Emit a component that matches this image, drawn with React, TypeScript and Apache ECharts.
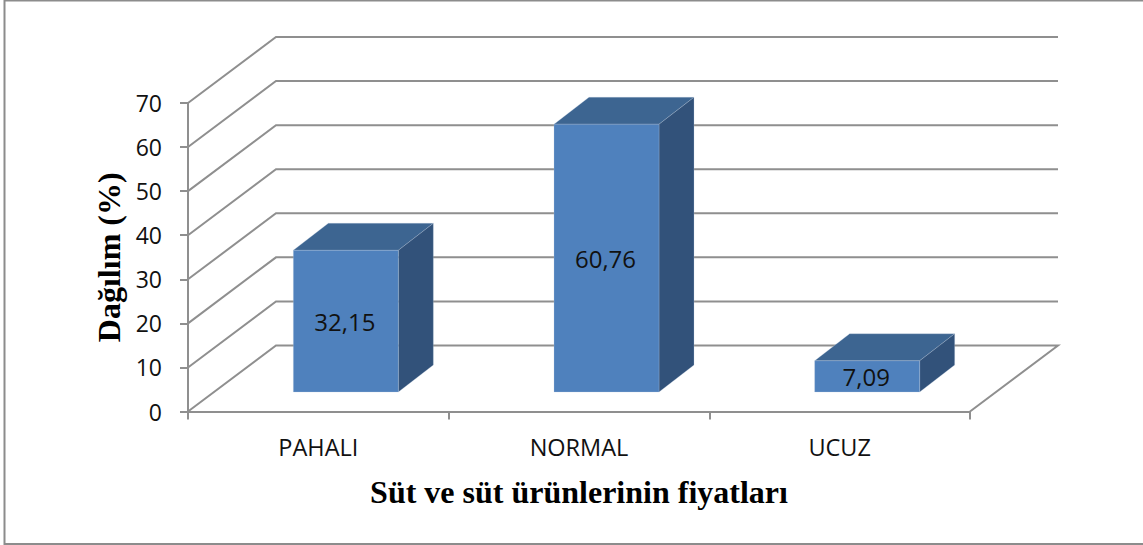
import React, { useEffect, useRef } from "react";
import * as echarts from "echarts";

const categories = ["PAHALI", "NORMAL", "UCUZ"];
const values = [32.15, 60.76, 7.09];
const valueLabels = ["32,15", "60,76", "7,09"];
const yTicks = [0, 10, 20, 30, 40, 50, 60, 70];
const xTitle = "Süt ve süt ürünlerinin fiyatları";
const yTitle = "Dağılım (%)";

const WALL_DX = 88;
const WALL_DY = -66;
const BAR_DX = 27.5;
const BAR_DY = -19.5;
const BAR_W = 105;
const DEPTH_X = 35;
const DEPTH_Y = -27;
const GRID_COLOR = "#8f8f8f";
const TICK_FONT = "'Open Sans', sans-serif";

export default function App() {
  const ref = useRef<HTMLDivElement>(null);
  useEffect(() => {
    const chart = echarts.init(ref.current!, undefined, { renderer: "svg" });
    chart.setOption({
      animation: false,
      backgroundColor: "#fff",
      graphic: [
        {
          type: "polyline",
          silent: true,
          z: -1,
          shape: { points: [[1143, 0.5], [4.5, 0.5], [4.5, 544], [1143, 544]] },
          style: { fill: "none", stroke: "#8c8c8c", lineWidth: 2 },
        },
      ],
      grid: { left: 188, right: 173, top: 103, bottom: 133.5 },
      xAxis: {
        type: "category",
        data: categories,
        axisLine: { lineStyle: { color: GRID_COLOR, width: 2 } },
        axisTick: { show: true, alignWithLabel: false, length: 8, lineStyle: { color: GRID_COLOR, width: 2 } },
        axisLabel: { color: "#111", fontFamily: TICK_FONT, fontSize: 23.5, margin: 23 },
        name: xTitle,
        nameLocation: "middle",
        nameGap: 64,
        nameTextStyle: { fontFamily: "'Liberation Serif', serif", fontWeight: "bold", fontSize: 32, color: "#000" },
      },
      yAxis: {
        type: "value",
        min: 0,
        max: 70,
        interval: 10,
        splitLine: { show: false },
        axisLine: { show: true, lineStyle: { color: GRID_COLOR, width: 2 } },
        axisTick: { show: true, length: 8, lineStyle: { color: GRID_COLOR, width: 2 } },
        axisLabel: { color: "#111", fontFamily: TICK_FONT, fontSize: 23, margin: 26, padding: [4, 0, 0, 0] },
        name: yTitle,
        nameLocation: "middle",
        nameGap: 63,
        nameTextStyle: { fontFamily: "'Liberation Serif', serif", fontWeight: "bold", fontSize: 32, color: "#000" },
      },
      series: [
        {
          type: "custom",
          z: 1,
          silent: true,
          data: yTicks.map((t) => [0, t]),
          renderItem: (params: any, api: any) => {
            const sys = params.coordSys;
            const v = api.value(1);
            const y = api.coord([0, v])[1];
            const x0 = sys.x;
            const x1 = sys.x + sys.width;
            const points: number[][] = [
              [x0, y],
              [x0 + WALL_DX, y + WALL_DY],
              [x1 + WALL_DX, y + WALL_DY],
            ];
            if (v === 0) points.push([x1, y]);
            return {
              type: "polyline",
              shape: { points },
              style: { fill: "none", stroke: GRID_COLOR, lineWidth: 2 },
            };
          },
        },
        {
          type: "custom",
          z: 3,
          silent: true,
          data: values.map((v, i) => [i, v]),
          encode: { x: 0, y: 1 },
          renderItem: (_params: any, api: any) => {
            const i = api.value(0);
            const top = api.coord([i, api.value(1)]);
            const base = api.coord([i, 0]);
            const l = top[0] + BAR_DX - BAR_W / 2;
            const r = l + BAR_W;
            const t = top[1] + BAR_DY;
            const b = base[1] + BAR_DY;
            const edge = { stroke: "rgba(190,205,225,0.35)", lineWidth: 0.75 };
            return {
              type: "group",
              children: [
                {
                  type: "polygon",
                  shape: { points: [[l, t], [l + DEPTH_X, t + DEPTH_Y], [r + DEPTH_X, t + DEPTH_Y], [r, t]] },
                  style: { fill: "#3d6591", ...edge },
                },
                {
                  type: "polygon",
                  shape: { points: [[r, t], [r + DEPTH_X, t + DEPTH_Y], [r + DEPTH_X, b + DEPTH_Y], [r, b]] },
                  style: { fill: "#32527a", ...edge },
                },
                {
                  type: "polygon",
                  shape: { points: [[l, t], [r, t], [r, b], [l, b]] },
                  style: { fill: "#4f81bd", ...edge },
                },
                {
                  type: "text",
                  style: {
                    x: (l + r) / 2 - 1,
                    y: (t + b) / 2,
                    text: valueLabels[i],
                    fill: "#111",
                    font: `24px ${TICK_FONT}`,
                    align: "center",
                    verticalAlign: "middle",
                  },
                },
              ],
            };
          },
        },
      ],
    });
    return () => chart.dispose();
  }, []);
  return <div ref={ref} style={{ position: "fixed", left: 0, top: 0, width: 1143, height: 545 }} />;
}
